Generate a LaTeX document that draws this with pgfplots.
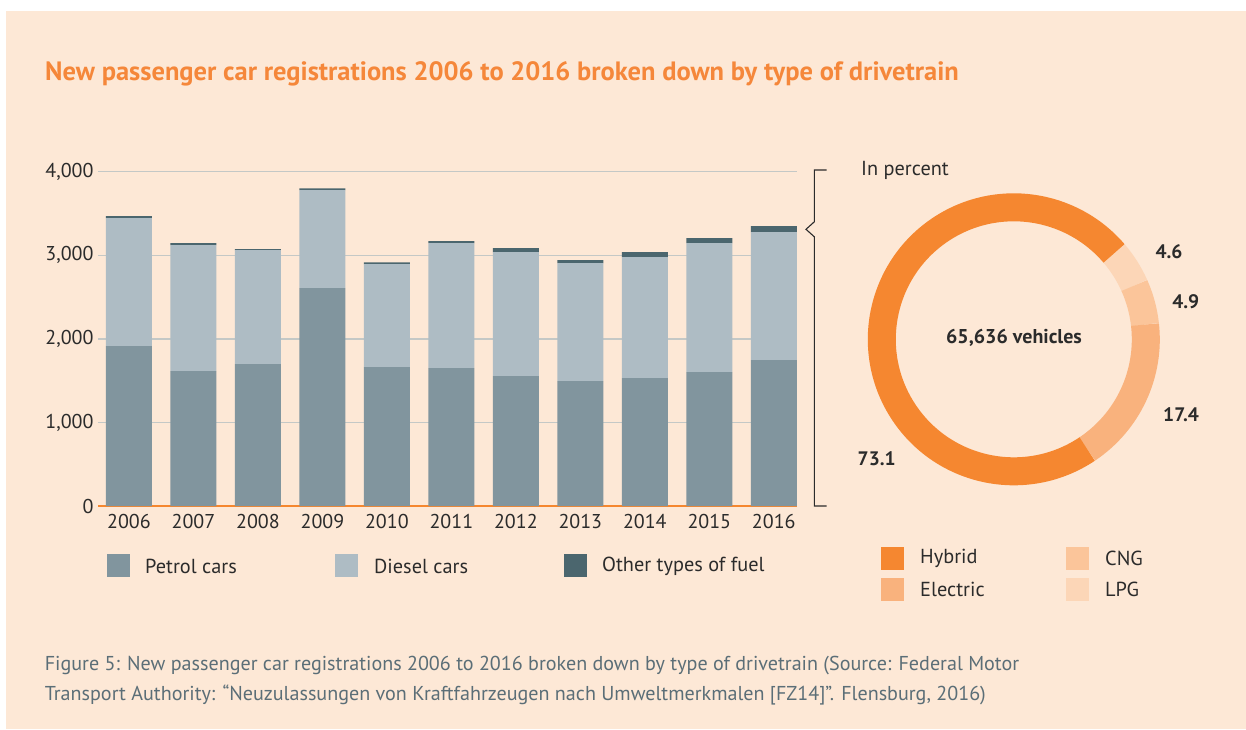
\documentclass[border=0pt]{standalone}
\usepackage{fontspec}
\setmainfont{PT Sans}
\usepackage{pgfplots}
\pgfplotsset{compat=1.18}
\definecolor{bgc}{HTML}{FDE8D6}
\definecolor{titlec}{HTML}{F5873A}
\definecolor{petrol}{HTML}{81959E}
\definecolor{diesel}{HTML}{AEBCC4}
\definecolor{other}{HTML}{4B666E}
\definecolor{gridc}{HTML}{C4C8C6}
\definecolor{basec}{HTML}{F5872F}
\definecolor{hyb}{HTML}{F58730}
\definecolor{elec}{HTML}{F9B27D}
\definecolor{cng}{HTML}{FBC59A}
\definecolor{lpg}{HTML}{FCD6B7}
\definecolor{textc}{HTML}{2B2B2B}
\definecolor{capc}{HTML}{5B6E77}
\begin{document}
\begin{tikzpicture}
\path[use as bounding box] (0,0) rectangle (1246pt,729pt);
\fill[white] (0,0) rectangle (1246pt,729pt);
\fill[bgc] (6pt,0) rectangle (1246pt,718pt);
% title
\node[anchor=base west, inner sep=0, text=titlec, font=\fontsize{26.5}{30}\selectfont\bfseries] at (45pt,648.3pt) {New passenger car registrations 2006 to 2016 broken down by type of drivetrain};
% bar chart
\begin{axis}[
  at={(98pt,223pt)}, anchor=south west,
  width=699pt, height=334.3pt, scale only axis,
  xmin=-0.48, xmax=10.36, ymin=0, ymax=4000,
  ybar stacked, bar width=46pt,
  axis line style={draw=none}, major tick length=0pt,
  ymajorgrids, grid style={line width=1.5pt, gridc},
  xtick={0,...,10}, xticklabels={2006,2007,2008,2009,2010,2011,2012,2013,2014,2015,2016},
  ytick={0,1000,2000,3000,4000},
  /pgf/number format/.cd, 1000 sep={,}, assume math mode=true,
  /pgfplots/.cd,
  tick label style={font=\fontsize{20}{23}\selectfont, text=textc},
  xticklabel style={yshift=-5pt},
  yticklabel style={xshift=-1pt},
]
\addplot[fill=petrol, draw=none] coordinates {(0,1914) (1,1615) (2,1699) (3,2608) (4,1663) (5,1651) (6,1555) (7,1495) (8,1531) (9,1603) (10,1746)};
\addplot[fill=diesel, draw=none] coordinates {(0,1531) (1,1507) (2,1363) (3,1172) (4,1232) (5,1495) (6,1483) (7,1412) (8,1448) (9,1543) (10,1532)};
\addplot[fill=other, draw=none] coordinates {(0,24) (1,24) (2,12) (3,20) (4,20) (5,24) (6,48) (7,36) (8,59) (9,60) (10,71)};
\draw[basec, line width=3pt] (axis cs:-0.48,0) -- (axis cs:10.36,0);
\end{axis}
% bar legend
\fill[petrol] (107pt,152pt) rectangle (130pt,175pt);
\node[anchor=west, inner sep=0, text=textc, font=\fontsize{20.3}{23}\selectfont] at (145pt,163pt) {Petrol cars};
\fill[diesel] (335pt,152pt) rectangle (358pt,175pt);
\node[anchor=west, inner sep=0, text=textc, font=\fontsize{20.3}{23}\selectfont] at (374pt,163pt) {Diesel cars};
\fill[other] (564pt,152pt) rectangle (587pt,175pt);
\node[anchor=west, inner sep=0, text=textc, font=\fontsize{20.3}{23}\selectfont] at (602pt,163pt) {Other types of fuel};
% bracket
\draw[textc, line width=1.1pt] (826.7pt,559pt) -- (814.3pt,559pt) -- (814.3pt,507.2pt) -- (806pt,499.7pt) -- (814.3pt,492.2pt) -- (814.3pt,223pt) -- (826.7pt,223pt);
\node[anchor=west, inner sep=0, text=textc, font=\fontsize{20.3}{23}\selectfont] at (861pt,558.3pt) {In percent};
% donut
\def\vLPG{4.6}\def\vCNG{4.9}\def\vELEC{17.4}\def\vHYB{73.1}
\pgfmathsetmacro{\aA}{40.6}
\pgfmathsetmacro{\aB}{\aA-3.6*\vLPG}
\pgfmathsetmacro{\aC}{\aB-3.6*\vCNG}
\pgfmathsetmacro{\aD}{\aC-3.6*\vELEC}
\pgfmathsetmacro{\aE}{\aD-3.6*\vHYB}
\begin{axis}[
  at={(1013.8pt,389.7pt)}, anchor=center,
  width=292pt, height=292pt, scale only axis, hide axis,
  xmin=-1, xmax=1, ymin=-1, ymax=1,
]
\draw[line width=28pt, lpg] (axis cs:0,0) ++(\aA:132pt) arc[start angle=\aA, end angle=\aB, radius=132pt];
\draw[line width=28pt, cng] (axis cs:0,0) ++(\aB:132pt) arc[start angle=\aB, end angle=\aC, radius=132pt];
\draw[line width=28pt, elec] (axis cs:0,0) ++(\aC:132pt) arc[start angle=\aC, end angle=\aD, radius=132pt];
\draw[line width=28pt, hyb] (axis cs:0,0) ++(\aD:132pt) arc[start angle=\aD, end angle=\aE, radius=132pt];
\end{axis}
\node[text=textc, inner sep=0, font=\fontsize{20}{24}\selectfont\bfseries] at (1014pt,391pt) {65,636 vehicles};
\node[text=textc, inner sep=0, font=\fontsize{19.5}{22}\selectfont\bfseries] at (1169pt,477.3pt) {4.6};
\node[text=textc, inner sep=0, font=\fontsize{19.5}{22}\selectfont\bfseries] at (1185.7pt,427.3pt) {4.9};
\node[text=textc, inner sep=0, font=\fontsize{19.5}{22}\selectfont\bfseries] at (1181pt,314pt) {17.4};
\node[text=textc, inner sep=0, font=\fontsize{19.5}{22}\selectfont\bfseries] at (876.7pt,270.7pt) {73.1};
% donut legend
\fill[hyb] (881pt,159pt) rectangle (904pt,182pt);
\node[anchor=west, inner sep=0, text=textc, font=\fontsize{20.3}{23}\selectfont] at (920pt,170.5pt) {Hybrid};
\fill[elec] (881pt,128pt) rectangle (904pt,151pt);
\node[anchor=west, inner sep=0, text=textc, font=\fontsize{20.3}{23}\selectfont] at (920pt,139.5pt) {Electric};
\fill[cng] (1066pt,159pt) rectangle (1089pt,182pt);
\node[anchor=west, inner sep=0, text=textc, font=\fontsize{20.3}{23}\selectfont] at (1105pt,170.5pt) {CNG};
\fill[lpg] (1066pt,128pt) rectangle (1089pt,151pt);
\node[anchor=west, inner sep=0, text=textc, font=\fontsize{20.3}{23}\selectfont] at (1105pt,139.5pt) {LPG};
% caption
\node[anchor=base west, inner sep=0, text=capc, font=\fontsize{20.1}{24}\selectfont] at (44.6pt,58.3pt) {Figure 5: New passenger car registrations 2006 to 2016 broken down by type of drivetrain (Source: Federal Motor};
\node[anchor=base west, inner sep=0, text=capc, font=\fontsize{20.1}{24}\selectfont] at (44.6pt,29pt) {Transport Authority: “Neuzulassungen von Kraftfahrzeugen nach Umweltmerkmalen [FZ14]”. Flensburg, 2016)};
\end{tikzpicture}
\end{document}
